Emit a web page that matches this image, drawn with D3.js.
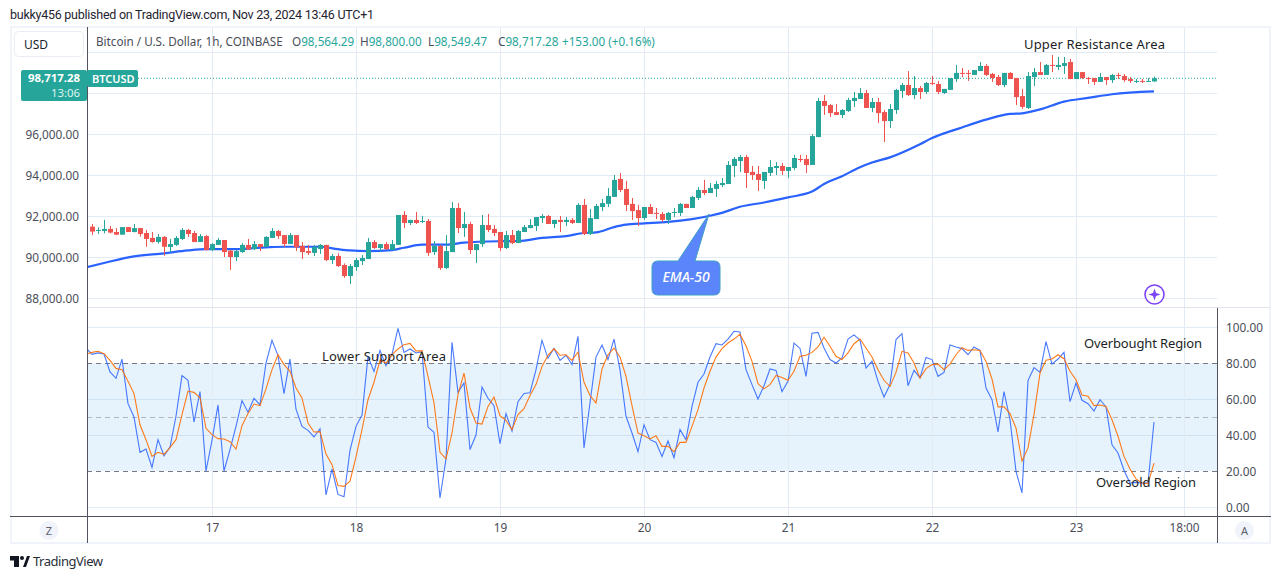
<!DOCTYPE html>
<html>
<head>
<meta charset="utf-8">
<title>BTCUSD 1h</title>
<script src="https://cdn.jsdelivr.net/npm/d3@7"></script>
<style>
  html, body { margin: 0; padding: 0; background: #fff; overflow: hidden; }
  svg { display: block; }
  text { font-family: "Noto Sans", sans-serif; }
</style>
</head>
<body>
<div id="chart"></div>
<script>
// candles, index 0 = Nov 16 04:00, one per hour
const opens = [
  91480,91280,91270,91370,91220,91090,91460,91220,91410,91170,
  90930,90730,90980,90490,90590,90880,91320,91170,90730,91020,
  90340,90590,90830,90310,90000,90240,90590,90390,90630,90490,
  90930,91270,91070,90630,91070,90540,90290,90200,90390,90590,
  89850,90050,89610,89070,89510,89800,89900,90730,90440,90630,
  90340,90590,92050,91660,91810,91710,91760,90240,90540,89460,
  90240,92390,91410,91610,90340,90630,91560,91370,91220,90440,
  91070,90680,91220,91410,91510,91900,92000,91610,91810,91710,
  91810,91660,92540,91120,91850,92440,92590,92930,93810,93320,
  92590,92290,91900,92440,92150,92100,91810,92150,92150,92590,
  92390,92880,93270,93120,93320,93510,93560,94440,94680,94880,
  94150,94050,93710,94100,94340,94440,94200,94340,94780,94780,
  94490,95850,97610,97410,97070,96930,97120,97610,97710,98000,
  97270,97560,97070,96630,97170,98100,98390,97900,98240,98050,
  98490,98440,98000,98150,98680,98980,98980,98880,99070,99320,
  98930,98780,98390,98980,98730,97850,97270,98780,99020,98880,
  99370,99270,99320,99510,98680,99020,98730,98730,98540,98780,
  98630,98880,98830,98680,98540,98590,98540,98564
];
const highs = [
  91610,91450,91810,91510,91410,91460,91460,91610,91410,91320,
  91220,91120,91020,90880,91020,91410,91370,91270,91120,91070,
  90680,90930,90830,90340,90340,90680,90880,90780,90630,91020,
  91410,91320,91070,91170,91070,90730,90590,90590,90630,90590,
  90150,90180,89690,89660,89950,90100,90930,90830,90630,90730,
  90830,92050,92240,91810,92200,92000,91850,90780,90590,91070,
  92680,92630,92200,91710,90630,92050,92100,91560,91220,91270,
  91320,91320,91560,91850,91950,92100,92050,91810,92000,91950,
  91900,92630,92830,92340,92590,92830,93370,94000,94100,93710,
  92880,92540,92440,92590,92390,92200,92200,92390,92630,92590,
  92980,93410,93760,93610,93710,93850,94680,94880,94980,94980,
  94440,94440,94150,94730,94630,94590,94390,94980,94980,94980,
  96000,97760,97900,97460,97460,97220,97760,98050,98240,98150,
  97760,97760,97170,97460,98200,98490,99070,98830,98340,98540,
  98830,98590,98200,98730,99370,99220,99120,99120,99510,99410,
  98980,98880,98980,99020,98730,98200,99020,99220,99510,99410,
  99850,99760,99760,99660,99020,99020,98780,98730,98980,98780,
  98930,98980,98930,98780,98680,98680,98730,98800
];
const lows = [
  91070,91120,91150,91150,91070,91090,91220,91200,90990,90500,
  90700,90650,90060,90210,90540,90830,90980,90730,90730,90310,
  90290,90590,90000,89370,89800,90200,90340,90340,90290,90490,
  90930,90880,90490,90630,90290,89900,90100,90050,90150,89800,
  89660,89510,88980,88680,89320,89610,89900,90390,90260,90340,
  90340,90590,91410,91560,91610,91660,90050,90100,89370,89410,
  90240,91170,90980,90150,89710,90490,91220,91020,90290,90390,
  90630,90680,91220,91410,91270,91660,91610,91410,91220,91510,
  91610,91660,91070,91070,91850,92240,92440,92930,93170,92240,
  91810,91510,91810,92100,91850,91710,91610,91950,92000,92390,
  92390,92780,93020,93120,92930,93410,93560,93900,94150,93370,
  93760,93220,93320,93950,94000,94000,93850,94240,94630,94100,
  94490,95850,96930,96830,96930,96780,97070,97320,97710,97270,
  97070,96540,95610,96290,96980,97760,97850,97710,97710,97950,
  98390,97950,97950,98150,98540,98780,98590,98880,99070,98830,
  98540,98340,98290,98680,97410,97220,97220,98340,98880,98880,
  99020,99120,98930,98680,98680,98680,98440,98390,98540,98390,
  98490,98680,98540,98490,98490,98490,98540,98549
];
const closes = [
  91240,91320,91370,91190,91090,91460,91220,91410,91120,90880,
  90730,90980,90500,90630,90930,91320,91120,90730,91020,90340,
  90630,90830,90240,90000,90290,90590,90370,90630,90490,90980,
  91270,91020,90630,91070,90470,90240,90200,90490,90590,89850,
  90050,89560,89070,89560,89850,89950,90730,90440,90630,90390,
  90630,92050,91660,91810,91660,91760,90200,90540,89460,90290,
  92390,91410,91610,90340,90630,91560,91320,91170,90440,91070,
  90680,91270,91460,91560,91950,92000,91610,91810,91710,91810,
  91660,92540,91120,91900,92490,92630,92980,93760,93270,92540,
  92240,91900,92440,92100,92100,91810,92150,92200,92590,92390,
  92930,93270,93120,93370,93560,93610,94490,94780,94880,94100,
  94000,93760,94150,94390,94440,94200,94390,94830,94730,94490,
  95900,97610,97370,97020,96930,97170,97660,97760,98000,97270,
  97560,97020,96630,97220,98150,98390,97900,98240,98050,98490,
  98440,98050,98200,98730,98980,98930,98930,99120,99320,98880,
  98730,98390,98980,98680,97800,97320,98830,99020,98880,99370,
  99320,99370,99460,98680,99020,98730,98680,98540,98780,98630,
  98880,98830,98630,98590,98590,98540,98590,98717
];

// EMA-50, read at these candle indexes
const emaIndex = [-1,2,7,12,16,19,24,29,32,38,41,43,46,50,52,55,59,62,68,71,75,79,82,84,87,89,92,96,100,103,105,108,112,116,120,122,125,128,130,133,138,140,145,149,153,155,158,162,166,170,177];
const emaValues = [89500,89710,90030,90180,90320,90380,90380,90470,90500,90500,90380,90320,90290,90340,90450,90600,90600,90700,90770,90780,90930,91020,91170,91200,91460,91580,91640,91710,91850,92010,92150,92450,92660,92910,93190,93560,93940,94380,94610,94860,95500,95800,96320,96700,96980,97010,97200,97580,97760,97940,98080];

// stochastic RSI, first entry is index -1 (the hour before the first candle)
const stochK = [
  88.3,84.8,85.6,85.0,75.0,71.5,82.2,57.4,50.0,30.4,32.2,22.0,37.4,28.5,33.3,50.4,73.0,70.4,47.2,64.1,
  20.0,37.0,56.7,20.0,31.9,44.8,59.1,52.6,60.4,56.7,80.0,92.6,84.1,63.0,82.2,54.4,44.8,42.6,38.9,43.5,
  6.7,21.1,7.0,5.7,31.5,44.8,51.1,83.7,75.2,87.0,78.5,84.8,99.3,85.9,87.8,85.6,86.3,44.4,41.5,5.0,
  26.7,91.5,63.7,68.9,31.9,40.0,66.7,60.4,56.3,35.2,51.9,42.2,58.5,63.1,63.5,76.3,92.6,82.6,88.1,81.5,
  84.3,79.1,94.8,32.8,57.8,83.3,90.0,81.9,93.3,76.3,50.4,41.1,30.7,45.7,37.4,35.9,28.1,36.7,27.4,43.0,
  37.4,55.9,69.3,73.9,83.3,90.7,90.0,93.3,97.6,97.2,76.3,68.0,60.0,67.4,76.7,75.9,64.1,69.8,91.1,88.1,
  72.6,96.5,97.0,88.3,81.9,80.0,82.8,93.3,95.6,92.6,77.2,81.1,69.8,61.1,68.0,93.0,96.3,67.4,75.9,71.7,
  83.1,81.9,72.6,74.8,90.0,88.9,88.0,84.6,88.9,87.0,66.1,59.6,41.7,64.1,48.5,19.8,7.8,70.2,77.4,74.8,
  91.9,79.4,82.2,85.9,58.5,68.9,59.3,57.4,53.3,59.6,55.6,34.6,30.0,20.4,13.3,13.7,13.3,13.3,47.2
];
const stochD = [
  85.0,85.9,86.5,85.2,81.5,77.0,76.3,69.8,63.0,45.7,37.4,28.1,30.4,29.3,33.0,37.4,51.3,64.4,63.7,60.7,
  43.7,40.2,38.0,37.8,36.3,32.2,45.2,51.9,57.2,56.3,65.6,76.3,84.6,79.1,75.4,66.1,60.6,46.7,41.7,41.9,
  29.4,23.5,11.9,11.5,14.4,27.8,43.0,59.6,69.3,81.5,80.0,84.6,87.8,90.2,90.9,86.7,86.9,72.6,57.8,30.4,
  26.7,41.1,62.4,74.4,55.0,46.7,46.1,55.9,61.1,50.7,48.1,43.0,51.3,54.6,61.9,68.0,78.1,84.3,88.0,84.3,
  84.6,81.5,86.1,69.3,61.9,57.8,76.7,84.6,88.3,83.3,72.6,56.3,41.1,39.6,37.8,39.6,33.7,33.7,30.7,35.9,
  35.9,44.8,54.1,66.1,75.4,83.3,88.0,91.1,93.3,95.9,89.6,80.9,68.5,65.6,68.0,73.1,71.9,70.4,75.4,83.7,
  84.3,85.9,88.9,94.3,89.3,83.7,81.9,85.6,90.7,93.3,88.3,83.3,76.3,70.4,67.0,74.8,86.5,85.6,80.0,71.7,
  76.9,79.1,79.4,76.3,79.4,84.6,88.5,87.0,87.4,87.0,80.9,71.1,55.6,55.6,51.9,43.9,25.4,32.8,51.3,74.4,
  81.5,82.2,84.6,82.4,75.4,70.7,62.2,61.5,56.3,56.7,55.9,48.5,39.3,28.1,21.1,15.6,13.3,13.0,24.4
];

const priceTicks = [88000, 90000, 92000, 94000, 96000];
const priceGrid = [88000, 90000, 92000, 94000, 96000, 98000, 100000];
const stochTicks = [0, 20, 40, 60, 80, 100];
const timeTicks = [20, 44, 68, 92, 116, 140, 164, 182]; // candle index of each label
const timeLabels = ["17", "18", "19", "20", "21", "22", "23", "18:00"];

const lastPrice = 98717.28;
const upColor = "#26a69a";
const downColor = "#ef5350";
const gridColor = "#e2ebf3";
const axisColor = "#50535e";
const textColor = "#4a4e58";

const width = 1281;
const height = 579;
const leftEdge = 87;
const rightEdge = 1217;

const x = d3.scaleLinear().domain([0, 177]).range([92, 1154]);
const priceY = d3.scaleLinear().domain([88000, 100000]).range([298, 52]);
const stochY = d3.scaleLinear().domain([0, 100]).range([507, 327]);

const svg = d3.select("#chart").append("svg")
  .attr("width", width)
  .attr("height", height);

const defs = svg.append("defs");
defs.append("clipPath").attr("id", "plot-clip").append("rect")
  .attr("x", leftEdge).attr("y", 28).attr("width", rightEdge - leftEdge).attr("height", 488);

svg.append("text")
  .attr("x", 10).attr("y", 19)
  .attr("font-size", 12.5).attr("fill", "#1f2430")
  .style("font-family", "Roboto, sans-serif")
  .attr("textLength", 364)
  .text("bukky456 published on TradingView.com, Nov 23, 2024 13:46 UTC+1");

// outer frame
svg.append("rect")
  .attr("x", 11).attr("y", 27).attr("width", 1259).attr("height", 516)
  .attr("fill", "#fff").attr("stroke", "#f0f3fa").attr("stroke-width", 2);

// stoch band
svg.append("rect")
  .attr("x", leftEdge).attr("width", rightEdge - leftEdge)
  .attr("y", stochY(80)).attr("height", stochY(20) - stochY(80))
  .attr("fill", "#e6f3fd");

// grid
const grid = svg.append("g").attr("stroke-width", 1).attr("shape-rendering", "crispEdges");
priceGrid.forEach((d) => {
  grid.append("line")
    .attr("x1", leftEdge).attr("x2", rightEdge)
    .attr("y1", priceY(d)).attr("y2", priceY(d))
    .attr("stroke", gridColor);
});
stochTicks.filter((d) => d !== 20 && d !== 80).forEach((d) => {
  grid.append("line")
    .attr("x1", leftEdge).attr("x2", rightEdge)
    .attr("y1", stochY(d)).attr("y2", stochY(d))
    .attr("stroke", d === 40 || d === 60 ? "#cfe2f1" : gridColor);
});
timeTicks.forEach((d) => {
  grid.append("line")
    .attr("x1", x(d)).attr("x2", x(d))
    .attr("y1", 28).attr("y2", 516)
    .attr("stroke", gridColor);
});

// stoch levels
[[80, "#787b86"], [50, "#b2b5be"], [20, "#787b86"]].forEach(([level, color]) => {
  svg.append("line")
    .attr("x1", leftEdge).attr("x2", rightEdge)
    .attr("y1", stochY(level)).attr("y2", stochY(level))
    .attr("stroke", color)
    .attr("stroke-dasharray", "5 4")
    .attr("shape-rendering", "crispEdges");
});

const plot = svg.append("g").attr("clip-path", "url(#plot-clip)");

// last price line
plot.append("line")
  .attr("x1", 138).attr("x2", rightEdge)
  .attr("y1", priceY(lastPrice)).attr("y2", priceY(lastPrice))
  .attr("stroke", upColor)
  .attr("stroke-dasharray", "1 2");

// ema
const emaLine = d3.line()
  .x((d, i) => x(emaIndex[i]))
  .y((d) => priceY(d))
  .curve(d3.curveMonotoneX);
plot.append("path")
  .attr("d", emaLine(emaValues))
  .attr("fill", "none")
  .attr("stroke", "#2962ff")
  .attr("stroke-width", 2.2);

// candles
const candles = plot.append("g").selectAll("g").data(opens).enter().append("g")
  .attr("fill", (d, i) => (closes[i] >= d ? upColor : downColor));
candles.append("rect")
  .attr("x", (d, i) => Math.round(x(i)))
  .attr("width", 1)
  .attr("y", (d, i) => priceY(highs[i]))
  .attr("height", (d, i) => priceY(lows[i]) - priceY(highs[i]));
candles.append("rect")
  .attr("x", (d, i) => Math.round(x(i)) - 2)
  .attr("width", 5)
  .attr("y", (d, i) => priceY(Math.max(d, closes[i])))
  .attr("height", (d, i) => Math.max(1, Math.abs(priceY(d) - priceY(closes[i]))));

// stoch lines
const stochLine = d3.line()
  .x((d, i) => x(i - 1))
  .y((d) => stochY(d));
plot.append("path")
  .attr("d", stochLine(stochK))
  .attr("fill", "none").attr("stroke", "#2962ff").attr("stroke-opacity", 0.85).attr("stroke-width", 1.1);
plot.append("path")
  .attr("d", stochLine(stochD))
  .attr("fill", "none").attr("stroke", "#ff6d00").attr("stroke-opacity", 0.9).attr("stroke-width", 1.1);

// panel borders
const borders = svg.append("g").attr("shape-rendering", "crispEdges");
borders.append("line").attr("x1", leftEdge).attr("x2", 1270).attr("y1", 307.5).attr("y2", 307.5).attr("stroke", "#e0e3eb");
borders.append("line").attr("x1", 10).attr("x2", 1271).attr("y1", 516.5).attr("y2", 516.5).attr("stroke", axisColor);
borders.append("line").attr("x1", 87.5).attr("x2", 87.5).attr("y1", 27).attr("y2", 543).attr("stroke", axisColor);
borders.append("line").attr("x1", 1217.5).attr("x2", 1217.5).attr("y1", 308).attr("y2", 543).attr("stroke", axisColor);

// axes
const styleAxis = (g) => {
  g.select(".domain").remove();
  g.selectAll(".tick line").remove();
  g.selectAll("text")
    .attr("font-size", 11.8)
    .attr("font-family", '"Noto Sans", sans-serif')
    .attr("fill", textColor);
};

svg.append("g")
  .attr("transform", `translate(${leftEdge - 8},0.5)`)
  .call(d3.axisLeft(priceY).tickValues(priceTicks).tickSize(0).tickPadding(0)
    .tickFormat(d3.format(",.2f")))
  .call(styleAxis);

svg.append("g")
  .attr("transform", `translate(${rightEdge + 9},1)`)
  .call(d3.axisRight(stochY).tickValues(stochTicks).tickSize(0).tickPadding(0)
    .tickFormat(d3.format(".2f")))
  .call(styleAxis);

svg.append("g")
  .attr("transform", "translate(0,524)")
  .call(d3.axisBottom(x).tickValues(timeTicks).tickSize(0).tickPadding(0)
    .tickFormat((d, i) => timeLabels[i]))
  .call(styleAxis);

// currency box
svg.append("rect")
  .attr("x", 14.5).attr("y", 31.5).attr("width", 69).attr("height", 25).attr("rx", 4)
  .attr("fill", "#fff").attr("stroke", "#e9ecf2");
svg.append("text")
  .attr("x", 24).attr("y", 49)
  .attr("font-size", 12).attr("fill", "#20242e")
  .text("USD");

// legend
const legend = svg.append("text").attr("y", 46).attr("font-size", 11.7);
legend.append("tspan").attr("x", 96).attr("fill", textColor).text("Bitcoin / U.S. Dollar, 1h, COINBASE");
[["O", "98,564.29", 292], ["H", "98,800.00", 360], ["L", "98,549.47", 428], ["C", "98,717.28", 498]].forEach(([k, v, lx]) => {
  legend.append("tspan").attr("x", lx).attr("fill", textColor).text(k);
  legend.append("tspan").attr("fill", upColor).text(v);
});
legend.append("tspan").attr("x", 562).attr("fill", upColor).text("+153.00 (+0.16%)");

// last price tag
svg.append("rect")
  .attr("x", 21).attr("y", 70).attr("width", 66).attr("height", 31).attr("rx", 2)
  .attr("fill", upColor);
svg.append("rect")
  .attr("x", 87).attr("y", 70).attr("width", 51).attr("height", 17).attr("rx", 2)
  .attr("fill", upColor);
svg.append("text")
  .attr("x", 80).attr("y", 82)
  .attr("text-anchor", "end").attr("font-size", 11.4).attr("font-weight", 700).attr("fill", "#fff")
  .text(d3.format(",.2f")(lastPrice));
svg.append("text")
  .attr("x", 80).attr("y", 97)
  .attr("text-anchor", "end").attr("font-size", 11.4).attr("fill", "#dff3f0")
  .text("13:06");
svg.append("text")
  .attr("x", 92).attr("y", 83)
  .attr("font-size", 11).attr("font-weight", 600).attr("fill", "#fff")
  .text("BTCUSD");

// annotations
const annotationLabels = ["Upper Resistance Area", "Lower Support Area", "Overbought Region", "Oversold Region"];
const annotationX = [1024, 322, 1084, 1096];
const annotationY = [49, 361, 348, 487];
const annotationWidth = [141, 124, 118, 100];
annotationLabels.forEach((label, i) => {
  svg.append("text")
    .attr("x", annotationX[i]).attr("y", annotationY[i])
    .attr("font-size", 13).attr("fill", "#1c1f26")
    .attr("textLength", annotationWidth[i])
    .text(label);
});

// EMA-50 callout
svg.append("path")
  .attr("d", "M658,261 L678,261 L709,214 L695,261 L714,261 Q720,261 720,267 L720,289 Q720,295 714,295 L658,295 Q652,295 652,289 L652,267 Q652,261 658,261 Z")
  .attr("fill", "#5b86fb")
  .attr("stroke", "#3f9fc4")
  .attr("stroke-width", 1);
svg.append("text")
  .attr("x", 686).attr("y", 282)
  .attr("text-anchor", "middle")
  .attr("font-size", 14).attr("font-style", "italic").attr("font-weight", 500).attr("fill", "#fff")
  .text("EMA-50");

// purple sparkle button
svg.append("circle")
  .attr("cx", 1154.5).attr("cy", 294.5).attr("r", 9.5)
  .attr("fill", "#fff").attr("stroke", "#7b45f5").attr("stroke-width", 1.6);
svg.append("path")
  .attr("d", "M1154.5,288.5 L1156,293 L1160.5,294.5 L1156,296 L1154.5,300.5 L1153,296 L1148.5,294.5 L1153,293 Z")
  .attr("fill", "#7b45f5");

// Z and A buttons
[["Z", 49], ["A", 1244.5]].forEach(([label, cx]) => {
  svg.append("circle").attr("cx", cx).attr("cy", 530.5).attr("r", 9.5).attr("fill", "#f0f3fa");
  svg.append("text")
    .attr("x", cx).attr("y", 535)
    .attr("text-anchor", "middle").attr("font-size", 11).attr("fill", "#5d606b")
    .text(label);
});

// TradingView mark
svg.append("path")
  .attr("d", "M10,556 L19,556 L19,567 L14,567 L14,560.5 L10,560.5 Z M23,567 L27,556 L30,556 L26,567 Z")
  .attr("fill", "#131722");
svg.append("circle").attr("cx", 22).attr("cy", 558).attr("r", 2).attr("fill", "#131722");
svg.append("text")
  .attr("x", 33).attr("y", 566)
  .attr("font-size", 13).attr("fill", "#2a2e39")
  .attr("textLength", 70)
  .text("TradingView");
</script>
</body>
</html>
